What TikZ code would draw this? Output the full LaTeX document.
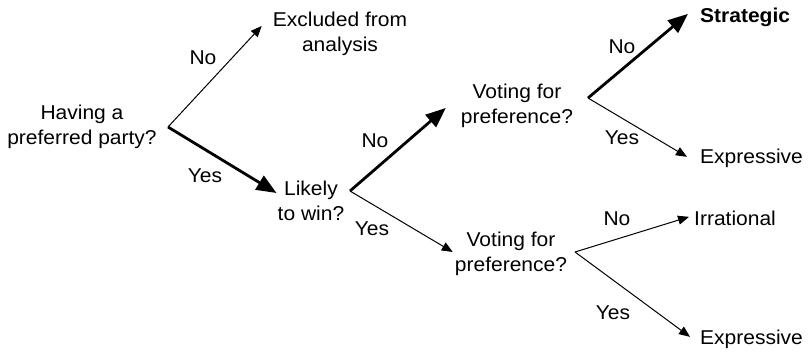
\documentclass[tikz,border=0pt]{standalone}
\usepackage{fontspec}
\setmainfont{Liberation Sans}[FakeStretch=1.05]
\usetikzlibrary{positioning,arrows.meta}

\begin{document}
\begin{tikzpicture}[x=1pt,y=-1pt,
    font=\fontsize{20}{24.5}\selectfont, inner sep=0pt,
    question/.style={align=center},
    outcome/.style={anchor=base west},
    thinarr/.style={line width=1pt,-{Triangle[length=11pt,width=9pt]}},
    thickarr/.style={line width=2.8pt,-{Triangle[length=20pt,width=16pt]}}]
  \useasboundingbox (0,0) rectangle (809,351);

  \node[question] (root) at (82,127) {Having a\\preferred party?};
  \node[question] (excl) at (340,34) {Excluded from\\analysis};
  \node[question] (likely) at (311,201) {Likely\\to win?};
  \node[question] (vtop) at (517,106) {Voting for\\preference?};
  \node[question] (vbot) at (511,254) {Voting for\\preference?};

  \node[outcome, font=\fontsize{20}{24.5}\selectfont\bfseries] (strat) at (700,22) {Strategic};
  \node[outcome] (exp1) at (700,163) {Expressive};
  \node[outcome] (irr) at (694,225) {Irrational};
  \node[outcome] (exp2) at (700,344) {Expressive};

  \coordinate (f0) at (168,127);
  \coordinate (f1) at (350,191);
  \coordinate (f2) at (588,98);
  \coordinate (f3) at (575,252);

  \draw[thinarr] (f0) -- ([xshift=-11pt,yshift=8pt]excl.west);
  \draw[thickarr] (f0) -- ([xshift=-1pt,yshift=8pt]likely.west);
  \draw[thickarr] (f1) -- ([xshift=-15pt,yshift=-2pt]vtop.west);
  \draw[thinarr] (f1) -- ([xshift=-2pt,yshift=2pt]vbot.west);
  \draw[thickarr] (f2) -- ([xshift=-12pt,yshift=3pt]strat.west);
  \draw[thinarr] (f2) -- ([xshift=-13pt,yshift=1pt]exp1.west);
  \draw[thinarr] (f3) -- ([xshift=-5pt,yshift=1pt]irr.west);
  \draw[thinarr] (f3) -- ([xshift=-10pt,yshift=2pt]exp2.west);

  \node (no0) at (203,58) {No};
  \node (yes0) at (205,176) {Yes};
  \node (no1) at (375,141) {No};
  \node (yes1) at (372,229) {Yes};
  \node (no2) at (622,47) {No};
  \node (yes2) at (622,138) {Yes};
  \node (no3) at (617,219) {No};
  \node (yes3) at (613,313) {Yes};
\end{tikzpicture}
\end{document}
